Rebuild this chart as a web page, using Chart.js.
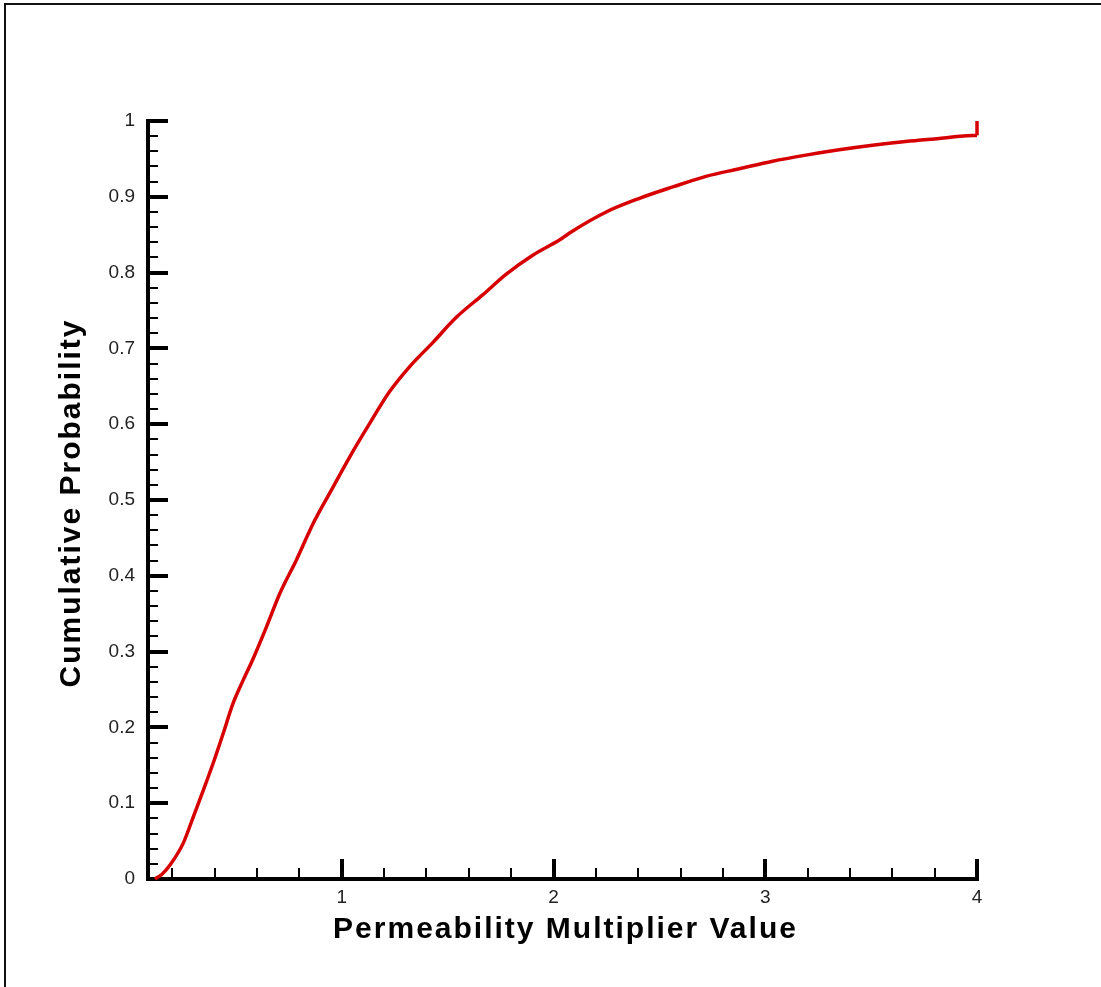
<!DOCTYPE html>
<html>
<head>
<meta charset="utf-8">
<title>Cumulative Probability</title>
<script src="https://cdn.jsdelivr.net/npm/chart.js@4/dist/chart.umd.min.js"></script>
<style>
  html, body { margin: 0; padding: 0; background: #fff; overflow: hidden; }
  #wrap { position: relative; width: 1101px; height: 987px; }
  /* frame around the plot page, only top and left edges fall inside the view */
  #frame {
    position: absolute; left: 4px; top: 3px; width: 2000px; height: 2000px;
    border-left: 2px solid #111; border-top: 2px solid #111;
    pointer-events: none;
  }
</style>
</head>
<body>
<div id="wrap">
  <canvas id="myChart"></canvas>
  <div id="frame"></div>
</div>
<script>
// permeability multiplier values (x) and cumulative probability (y)
const multiplier = [0.118, 0.150, 0.189, 0.251, 0.299, 0.346, 0.393, 0.440, 0.487, 0.534,
  0.582, 0.645, 0.708, 0.786, 0.865, 0.943, 1.038, 1.132, 1.226, 1.321,
  1.431, 1.541, 1.667, 1.777, 1.902, 2.028, 2.091, 2.249, 2.406, 2.563,
  2.720, 2.877, 3.035, 3.192, 3.349, 3.506, 3.663, 3.821, 3.978, 4.000, 4.000];
const probabilidad = [0.000, 0.006, 0.0185, 0.047, 0.082, 0.117, 0.153, 0.192, 0.232, 0.262,
  0.291, 0.333, 0.377, 0.421, 0.469, 0.509, 0.557, 0.601, 0.643, 0.676,
  0.708, 0.741, 0.771, 0.798, 0.823, 0.843, 0.855, 0.880, 0.898, 0.913,
  0.927, 0.937, 0.947, 0.955, 0.962, 0.968, 0.973, 0.977, 0.981, 0.981, 1.000];

// ticks
const xLabels = [1, 2, 3, 4];
const yLabels = [0, 0.1, 0.2, 0.3, 0.4, 0.5, 0.6, 0.7, 0.8, 0.9, 1];
const xMin = 0.085;
const xMax = 4;

const xTitle = "Permeability Multiplier Value";
const yTitle = "Cumulative Probability";

const ctx = document.getElementById("myChart");

// ejes gruesos con marcas hacia adentro (mayores y menores)
const ejes = {
  id: "ejes",
  beforeDatasetsDraw(chart) {
    const c = chart.ctx;
    const xs = chart.scales.x;
    const ys = chart.scales.y;
    const y0 = ys.getPixelForValue(0);
    const x0 = xs.left;
    c.save();
    c.strokeStyle = "#000";
    c.lineCap = "butt";

    // minor ticks x
    c.lineWidth = 2;
    for (let i = 1; i < 20; i++) {
      const v = i * 0.2;
      if (Math.abs(v - Math.round(v)) < 1e-6) continue;
      const px = Math.round(xs.getPixelForValue(v));
      c.beginPath(); c.moveTo(px, y0); c.lineTo(px, y0 - 11); c.stroke();
    }
    // minor ticks y
    for (let i = 1; i < 50; i++) {
      if (i % 5 === 0) continue;
      const py = Math.round(ys.getPixelForValue(i * 0.02));
      c.beginPath(); c.moveTo(x0, py); c.lineTo(x0 + 10, py); c.stroke();
    }

    // major ticks
    c.lineWidth = 4;
    xLabels.forEach((v) => {
      const px = Math.round(xs.getPixelForValue(v));
      c.beginPath(); c.moveTo(px, y0 + 2); c.lineTo(px, y0 - 20); c.stroke();
    });
    yLabels.forEach((v) => {
      const py = Math.round(ys.getPixelForValue(v));
      c.beginPath(); c.moveTo(x0 - 2, py); c.lineTo(x0 + 20, py); c.stroke();
    });

    // axis lines
    c.beginPath();
    c.moveTo(x0, ys.getPixelForValue(1) - 2);
    c.lineTo(x0, y0 + 2);
    c.moveTo(x0 - 2, y0);
    c.lineTo(xs.getPixelForValue(xMax) + 2, y0);
    c.stroke();
    c.restore();
  },
  // titulos de ejes, con algo de espacio entre letras
  afterDraw(chart) {
    const c = chart.ctx;
    const a = chart.chartArea;
    c.save();
    c.fillStyle = "#000";
    c.font = "bold 30px 'Liberation Sans', Arial, sans-serif";
    c.letterSpacing = "2px";
    c.textAlign = "center";
    c.textBaseline = "middle";
    c.fillText(xTitle, (a.left + a.right) / 2 + 3, 930);
    c.translate(72, (a.top + a.bottom) / 2 + 3);
    c.rotate(-Math.PI / 2);
    c.fillText(yTitle, 0, 0);
    c.restore();
  }
};

const curva = multiplier.map((x, i) => ({ x: x, y: probabilidad[i] }));
const n = curva.length;

const chart = new Chart(ctx, {
  type: "scatter",
  data: {
    datasets: [
      {
        // curva acumulada
        data: curva.slice(0, n - 1),
        showLine: true,
        borderColor: "#d60000",
        borderWidth: 3.5,
        pointRadius: 0,
        cubicInterpolationMode: "monotone",
        clip: false,
      },
      {
        // salto final hasta 1
        data: curva.slice(n - 2),
        showLine: true,
        borderColor: "#d60000",
        borderWidth: 3.5,
        pointRadius: 0,
        tension: 0,
        clip: false,
      },
    ],
  },
  options: {
    responsive: true,
    maintainAspectRatio: false,
    animation: false,
    events: [],
    layout: { padding: { top: 121, right: 124, bottom: 0, left: 0 } },
    plugins: { legend: { display: false }, tooltip: { enabled: false } },
    scales: {
      x: {
        type: "linear",
        min: xMin,
        max: xMax,
        afterBuildTicks: (s) => { s.ticks = xLabels.map((v) => ({ value: v })); },
        afterFit: (s) => { s.height = 108; },
        grid: { display: false, drawTicks: false },
        border: { display: false },
        ticks: {
          padding: 7,
          color: "#222",
          font: { family: "Liberation Sans, Arial, sans-serif", size: 19 },
          maxRotation: 0,
          callback: (v) => String(v),
        },
      },
      y: {
        type: "linear",
        min: 0,
        max: 1,
        afterBuildTicks: (s) => { s.ticks = yLabels.map((v) => ({ value: v })); },
        afterFit: (s) => { s.width = 148; },
        grid: { display: false, drawTicks: false },
        border: { display: false },
        ticks: {
          padding: 13,
          color: "#222",
          font: { family: "Liberation Sans, Arial, sans-serif", size: 19 },
          callback: (v) => String(+v.toFixed(1)),
        },
      },
    },
  },
  plugins: [ejes],
});
</script>
</body>
</html>
